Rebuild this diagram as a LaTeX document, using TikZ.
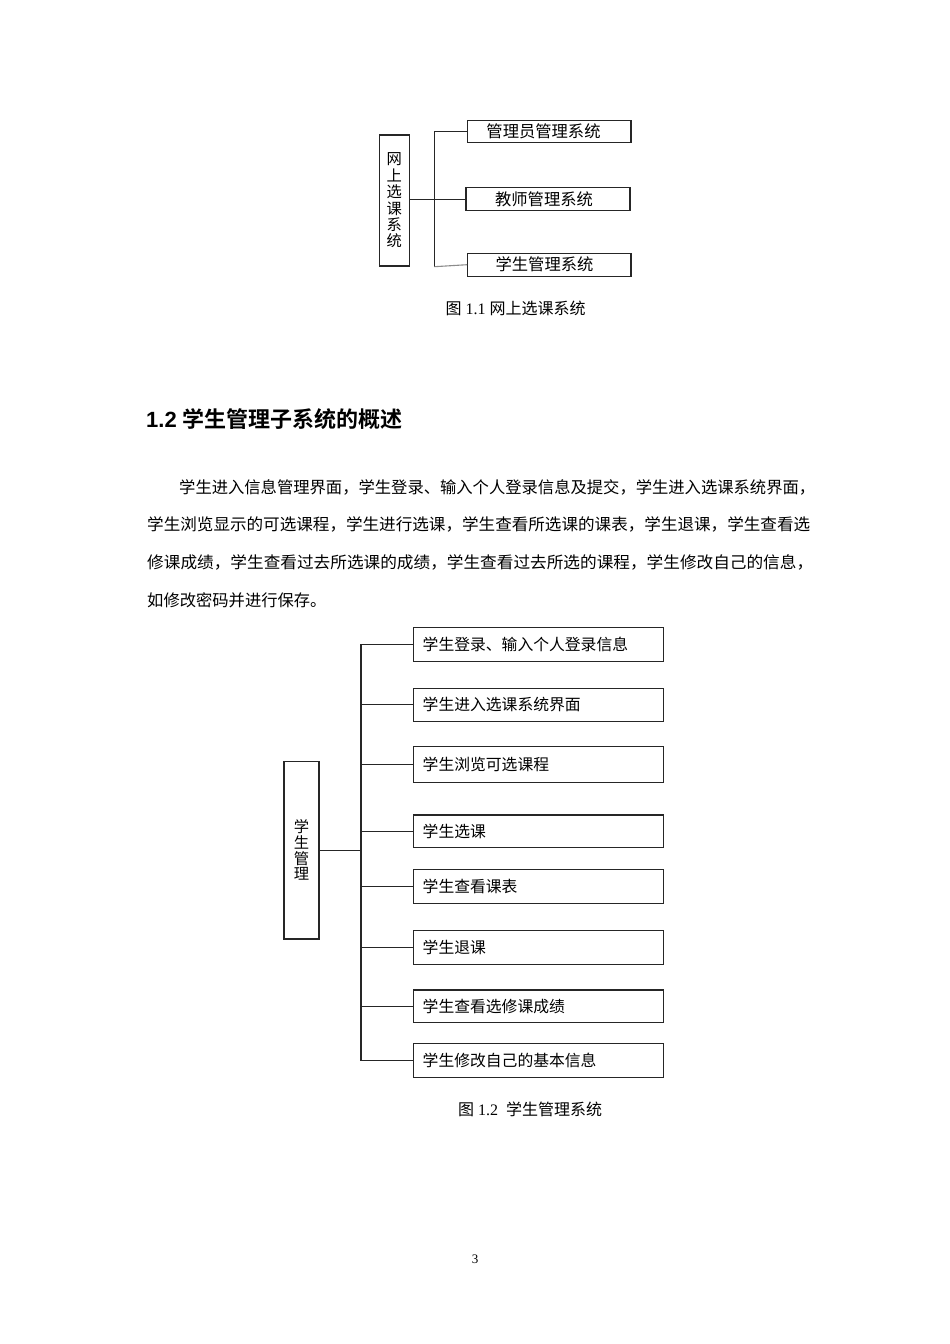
\documentclass[tikz,border=0pt]{standalone}
\usepackage{fontspec}
\usepackage{graphicx}
\setmainfont{Liberation Serif}
\newfontfamily\cjk{Noto Sans CJK SC}
\newfontfamily\cjkb{Noto Sans CJK SC Bold}
\newfontfamily\hsans{Liberation Sans}
\begin{document}
\begin{tikzpicture}[x=1pt,y=-1pt]
\tikzset{
  ln/.style={line width=1.1pt, draw=black!85},
  boxa/.style={draw=black!85, line width=1.1pt, rectangle, inner sep=0pt, minimum width=163.3pt, minimum height=22.7pt},
  tboxa/.style={inner sep=0pt, font=\cjk\fontsize{16.3}{16.3}\selectfont},
  boxb/.style={draw=black!85, line width=1.1pt, rectangle, inner xsep=9.4pt, inner ysep=0pt, text width=231.2pt, align=left, minimum height=34pt, font=\cjk\fontsize{15.8}{15.8}\selectfont},
  vbox/.style={draw=black!85, line width=1.1pt, rectangle, inner sep=0pt, align=center},
  caption/.style={inner sep=0pt, font=\fontsize{16}{16}\selectfont},
  para/.style={inner sep=0pt, anchor=west, font=\cjk\fontsize{16.3}{16.3}\selectfont},
}
\path[fill=white] (0,0) rectangle (950,1344);
\useasboundingbox (0,0) rectangle (950,1344);

% ---------- Figure 1.1 ----------
\node[vbox, minimum width=30pt, minimum height=131pt, font=\cjk\fontsize{15.3}{16.4}\selectfont] (L) at (394.3,200.5) {网\\上\\选\\课\\系\\统};
\node[boxa, minimum width=163.3pt, minimum height=22.3pt] (b1) at (549.3,131.2) {};
\node[boxa, minimum width=164pt, minimum height=23pt] (b2) at (548,199.2) {};
\node[boxa] (b3) at (549.3,264.7) {};
\node[tboxa] (b1t) at (543.5,131.2) {管理员管理系统};
\node[tboxa] (b2t) at (544,199.2) {教师管理系统};
\node[tboxa] (b3t) at (544.5,264.7) {学生管理系统};
\coordinate (jt) at (434.3,131.2);
\coordinate (jb) at (434.3,266.7);
\draw[ln] (L.east |- b2.west) -- (b2.west);
\draw[ln] (b1.west) -- (b1.west -| jt) -- (jb);
\draw[line width=1.1pt, draw=black!45] (jb) -- (b3.west);
\node[caption] (cap1) at (515.5,308) {{\cjk 图} 1.1 {\cjk 网上选课系统}};

% ---------- Heading and text ----------
\node[inner sep=0pt, anchor=west, font=\fontsize{22}{22}\selectfont] (head) at (146,419) {{\hsans\bfseries 1.2} {\cjkb 学生管理子系统的概述}};
\node[para] (p1) at (179,487) {\resizebox{636pt}{\height}{学生进入信息管理界面，学生登录、输入个人登录信息及提交，学生进入选课系统界面，}};
\node[para] (p2) at (147,524) {\resizebox{663pt}{\height}{学生浏览显示的可选课程，学生进行选课，学生查看所选课的课表，学生退课，学生查看选}};
\node[para] (p3) at (147,562) {\resizebox{666pt}{\height}{修课成绩，学生查看过去所选课的成绩，学生查看过去所选的课程，学生修改自己的信息，}};
\node[para] (p4) at (147,600) {如修改密码并进行保存。};

% ---------- Figure 1.2 ----------
\node[vbox, minimum width=35pt, minimum height=177.3pt, font=\cjk\fontsize{15.3}{15.7}\selectfont] (M) at (301.5,850.3) {学\\生\\管\\理};
\node[boxb, minimum height=34.4pt] (c1) at (538.3,644.5) {学生登录、输入个人登录信息};
\node[boxb, minimum height=32.7pt] (c2) at (538.3,704.7) {学生进入选课系统界面};
\node[boxb, minimum height=35.6pt] (c3) at (538.3,764.5) {学生浏览可选课程};
\node[boxb, minimum height=32.7pt] (c4) at (538.3,831.3) {学生选课};
\node[boxb] (c5) at (538.3,886.3) {学生查看课表};
\node[boxb, minimum height=34.3pt] (c6) at (538.3,947.2) {学生退课};
\node[boxb, minimum height=32.7pt] (c7) at (538.3,1006.3) {学生查看选修课成绩};
\node[boxb] (c8) at (538.3,1060.3) {学生修改自己的基本信息};
\coordinate (k) at (361,850.3);
\draw[ln] (M.east) -- (k);
\draw[ln] (c1.west) -- (c1.west -| k) -- (c8.west -| k) -- (c8.west);
\foreach \n in {c2,c3,c4,c5,c6,c7} {
  \draw[ln] (\n.west -| k) -- (\n.west);
}
\node[caption] (cap2) at (530,1109) {{\cjk 图} 1.2\ \ {\cjk 学生管理系统}};

\node[inner sep=0pt, font=\fontsize{13}{13}\selectfont] (pg) at (475,1259) {3};
\end{tikzpicture}
\end{document}
